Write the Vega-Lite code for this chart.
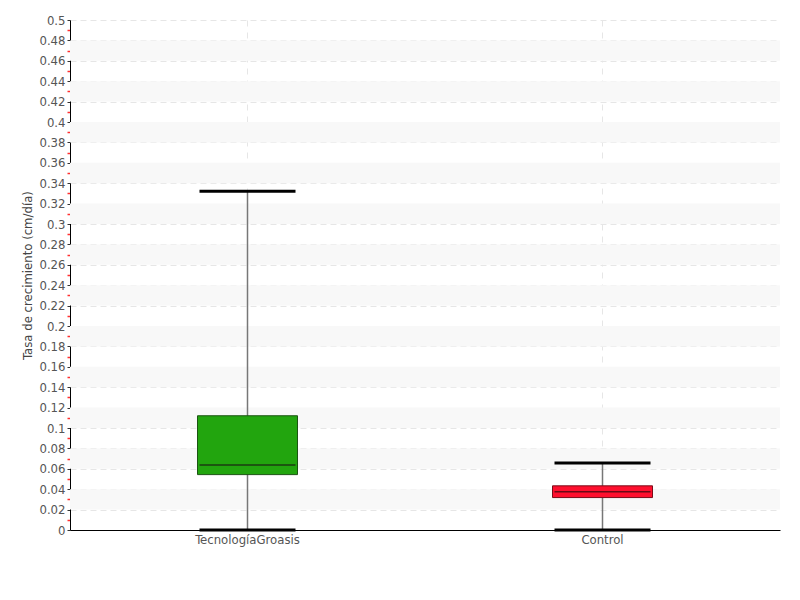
{
  "$schema": "https://vega.github.io/schema/vega-lite/v6.json",
  "width": 710,
  "height": 510,
  "autosize": "none",
  "padding": {"left": 70, "top": 20, "right": 20, "bottom": 70},
  "background": "white",
  "config": {
    "view": {"stroke": null},
    "font": "DejaVu Sans Condensed, DejaVu Sans, sans-serif",
    "axis": {"labelFont": "DejaVu Sans Condensed, DejaVu Sans, sans-serif", "titleFont": "DejaVu Sans Condensed, DejaVu Sans, sans-serif"}
  },
  "datasets": {
    "cajas": [
      {"grupo": "TecnologíaGroasis", "lower": 0.0, "q1": 0.0543, "median": 0.0637, "q3": 0.112, "upper": 0.332},
      {"grupo": "Control", "lower": 0.0, "q1": 0.0318, "median": 0.0376, "q3": 0.0433, "upper": 0.0657}
    ],
    "franjas": [
      {"y0": 0.02, "y1": 0.04}, {"y0": 0.06, "y1": 0.08}, {"y0": 0.10, "y1": 0.12},
      {"y0": 0.14, "y1": 0.16}, {"y0": 0.18, "y1": 0.20}, {"y0": 0.22, "y1": 0.24},
      {"y0": 0.26, "y1": 0.28}, {"y0": 0.30, "y1": 0.32}, {"y0": 0.34, "y1": 0.36},
      {"y0": 0.38, "y1": 0.40}, {"y0": 0.42, "y1": 0.44}, {"y0": 0.46, "y1": 0.48}
    ]
  },
  "resolve": {"axis": {"y": "independent"}, "scale": {"color": "independent"}},
  "layer": [
    {
      "data": {"name": "franjas"},
      "mark": {"type": "rect", "color": "#f8f8f8"},
      "encoding": {
        "y": {
          "field": "y0", "type": "quantitative",
          "scale": {"domain": [0, 0.5], "nice": false, "zero": true},
          "axis": {
            "orient": "left",
            "values": [0.01, 0.03, 0.05, 0.07, 0.09, 0.11, 0.13, 0.15, 0.17, 0.19, 0.21, 0.23, 0.25, 0.27, 0.29, 0.31, 0.33, 0.35, 0.37, 0.39, 0.41, 0.43, 0.45, 0.47, 0.49],
            "labels": false, "domain": false, "grid": false,
            "tickColor": "#ff3030", "tickSize": 3, "tickWidth": 1.5,
            "title": null
          }
        },
        "y2": {"field": "y1"}
      }
    },
    {
      "data": {"name": "cajas"},
      "mark": {"type": "rule", "color": "#777777", "strokeWidth": 1.5},
      "encoding": {
        "x": {
          "field": "grupo", "type": "nominal",
          "sort": ["TecnologíaGroasis", "Control"],
          "scale": {"paddingInner": 0, "paddingOuter": 0},
          "axis": {
            "title": null, "labelAngle": 0, "ticks": false,
            "domainColor": "#000000", "domainWidth": 1,
            "labelColor": "#555555", "labelFontSize": 13, "labelPadding": 3,
            "grid": true, "bandPosition": 0.5,
            "gridColor": "#e6e6e6", "gridDash": [6, 6], "gridWidth": 1
          }
        },
        "y": {
          "field": "lower", "type": "quantitative",
          "scale": {"domain": [0, 0.5], "nice": false, "zero": true},
          "axis": {
            "orient": "left",
            "values": [0, 0.02, 0.04, 0.06, 0.08, 0.1, 0.12, 0.14, 0.16, 0.18, 0.2, 0.22, 0.24, 0.26, 0.28, 0.3, 0.32, 0.34, 0.36, 0.38, 0.4, 0.42, 0.44, 0.46, 0.48, 0.5],
            "format": "~g",
            "title": "Tasa de crecimiento (cm/día)",
            "titleColor": "#444444", "titleFontSize": 13, "titleFontWeight": "normal",
            "titlePadding": 4,
            "labelColor": "#555555", "labelFontSize": 13, "labelPadding": 2,
            "domainColor": "#000000", "domainWidth": 1,
            "tickColor": "#333333", "tickSize": 3,
            "grid": true, "gridColor": "#e6e6e6", "gridDash": [6, 4], "gridWidth": 1
          }
        },
        "y2": {"field": "upper"}
      }
    },
    {
      "data": {"name": "cajas"},
      "mark": {"type": "bar", "size": 100, "strokeWidth": 1},
      "encoding": {
        "x": {"field": "grupo", "type": "nominal", "sort": ["TecnologíaGroasis", "Control"]},
        "y": {"field": "q1", "type": "quantitative", "axis": null},
        "y2": {"field": "q3"},
        "color": {
          "field": "grupo", "type": "nominal", "legend": null,
          "scale": {"domain": ["TecnologíaGroasis", "Control"], "range": ["#22a50e", "#ff0f2e"]}
        },
        "stroke": {
          "field": "grupo", "type": "nominal", "legend": null,
          "scale": {"domain": ["TecnologíaGroasis", "Control"], "range": ["#1b5412", "#7a0c18"]}
        }
      }
    },
    {
      "data": {"name": "cajas"},
      "mark": {"type": "tick", "size": 96, "thickness": 1.5, "opacity": 1},
      "encoding": {
        "x": {"field": "grupo", "type": "nominal", "sort": ["TecnologíaGroasis", "Control"]},
        "y": {"field": "median", "type": "quantitative", "axis": null},
        "color": {
          "field": "grupo", "type": "nominal", "legend": null,
          "scale": {"domain": ["TecnologíaGroasis", "Control"], "range": ["#1b3d12", "#6a0a15"]}
        }
      }
    },
    {
      "data": {"name": "cajas"},
      "mark": {"type": "tick", "size": 96, "thickness": 3, "color": "#000000", "opacity": 1},
      "encoding": {
        "x": {"field": "grupo", "type": "nominal", "sort": ["TecnologíaGroasis", "Control"]},
        "y": {"field": "upper", "type": "quantitative", "axis": null}
      }
    },
    {
      "data": {"name": "cajas"},
      "mark": {"type": "tick", "size": 96, "thickness": 3, "color": "#000000", "opacity": 1},
      "encoding": {
        "x": {"field": "grupo", "type": "nominal", "sort": ["TecnologíaGroasis", "Control"]},
        "y": {"field": "lower", "type": "quantitative", "axis": null}
      }
    }
  ]
}
